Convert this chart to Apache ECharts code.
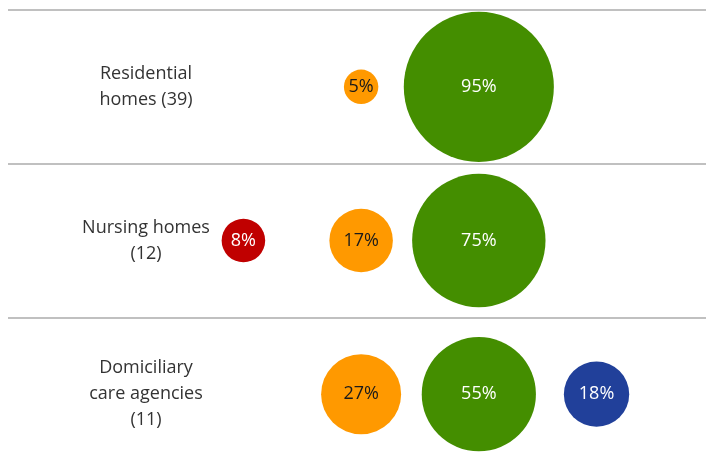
<!DOCTYPE html>
<html>
<head>
<meta charset="utf-8">
<script src="https://cdn.jsdelivr.net/npm/echarts@6/dist/echarts.min.js"></script>
<style>html,body{margin:0;padding:0;background:#fff;overflow:hidden}#c{width:706px;height:471px}</style>
</head>
<body>
<div id="c"></div>
<script>
const rowLabels = ['Residential\nhomes (39)', 'Nursing homes\n(12)', 'Domiciliary\ncare agencies\n(11)'];
const columnNames = ['Red', 'Orange', 'Green', 'Blue'];
const redValues = [null, 8, null];
const orangeValues = [5, 17, 27];
const greenValues = [95, 75, 55];
const blueValues = [null, null, 18];
const colors = ['#C00000', '#FF9900', '#448E00', '#21409A'];
const labelColors = ['#ffffff', '#1a1a1a', '#ffffff', '#ffffff'];
const allValues = [redValues, orangeValues, greenValues, blueValues];

const FONT = '"Open Sans", sans-serif';
const series = allValues.map((vals, col) => ({
  name: columnNames[col],
  type: 'scatter',
  data: vals.map((v, r) => v == null ? null : [col, r, v]).filter(d => d),
  symbolSize: d => 15.4 * Math.sqrt(d[2]),
  itemStyle: { color: colors[col], opacity: 1 },
  label: {
    show: true, position: 'inside',
    formatter: p => p.value[2] + '%',
    color: labelColors[col], fontSize: 18, fontFamily: FONT
  },
  silent: true
}));

const chart = echarts.init(document.getElementById('c'));
chart.setOption({
  animation: false,
  grid: { left: 8, right: 0, top: 10, bottom: 0 },
  xAxis: { type: 'value', min: -2, max: 3.93, show: false },
  yAxis: {
    type: 'category', inverse: true, data: rowLabels,
    axisLine: { show: false }, axisTick: { show: false },
    splitLine: { show: true, interval: 0, lineStyle: { color: '#ABABAB', width: 1.5 } },
    axisLabel: {
      inside: true, align: 'center', margin: 138,
      fontSize: 18, lineHeight: 26, color: '#333', fontFamily: FONT, interval: 0
    }
  },
  series
});
</script>
</body>
</html>
